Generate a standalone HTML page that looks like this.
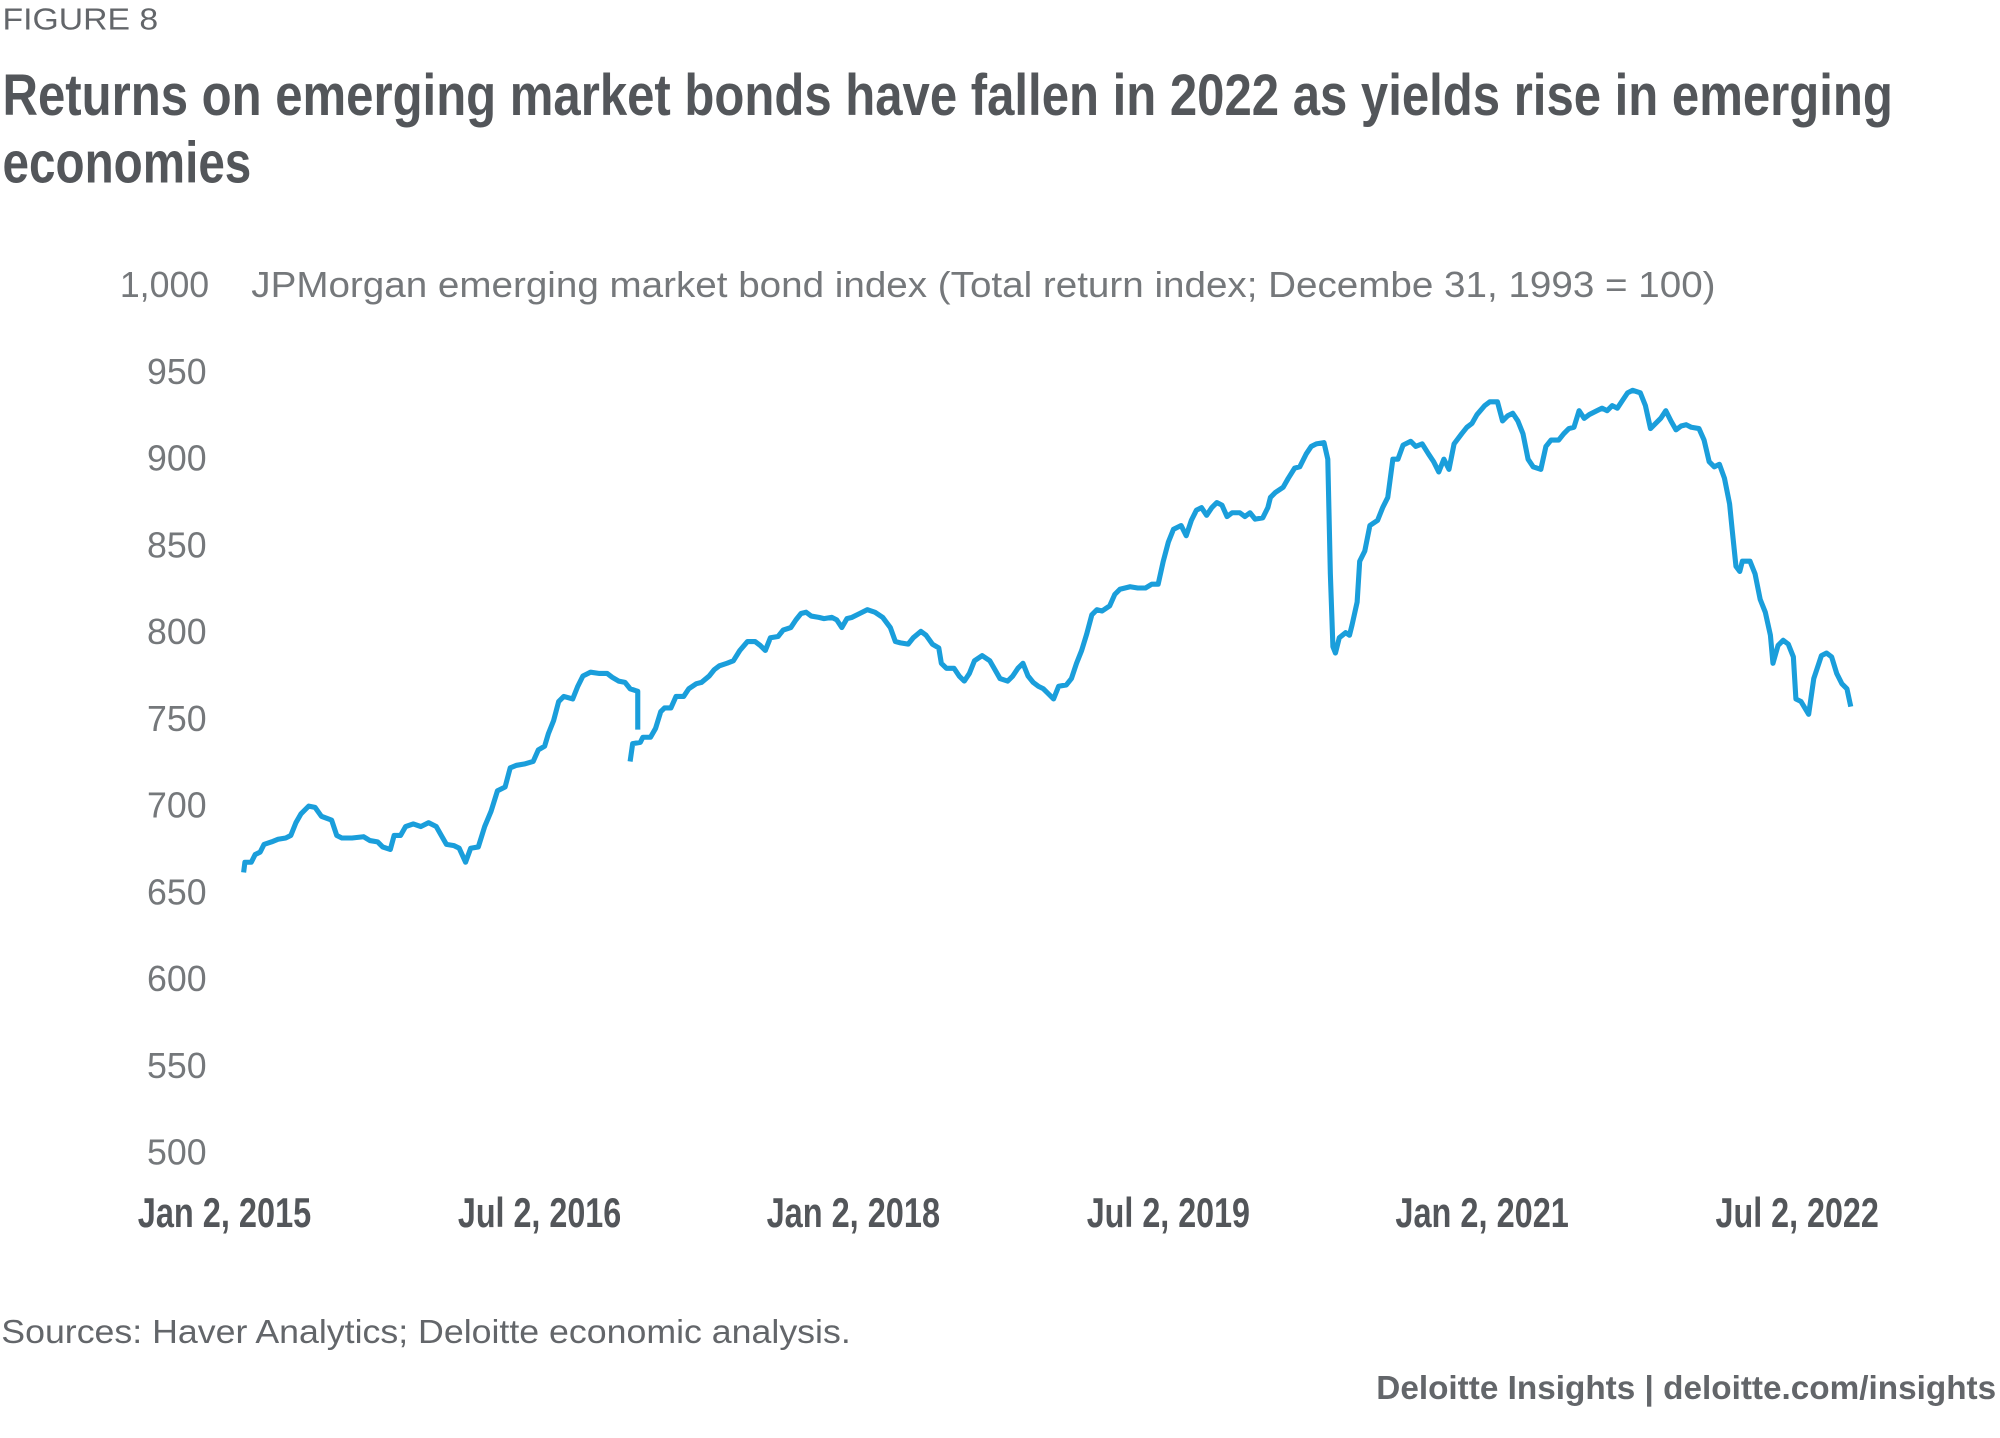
<!DOCTYPE html>
<html><head><meta charset="utf-8"><style>
html,body{margin:0;padding:0;background:#fff;}
svg{display:block}
</style></head><body>
<svg width="2000" height="1438" viewBox="0 0 1568 1127.4" xmlns="http://www.w3.org/2000/svg">
<rect width="1568" height="1128" fill="#fff"/>
<g font-family="'Liberation Sans', sans-serif" fill="#63666a">
<text x="2" y="23" font-size="24" textLength="122" lengthAdjust="spacingAndGlyphs">FIGURE 8</text>
<g font-family="'Liberation Sans Narrow','Liberation Sans',sans-serif" font-weight="bold" fill="#53565a" font-size="46">
<text x="2" y="90" textLength="1482" lengthAdjust="spacingAndGlyphs">Returns on emerging market bonds have fallen in 2022 as yields rise in emerging</text>
<text x="2" y="143" textLength="195" lengthAdjust="spacingAndGlyphs">economies</text>
</g>
<g font-size="28" fill="#75787b" text-anchor="end">
<text x="164" y="233">1,000</text>
<text x="162" y="301">950</text>
<text x="162" y="369">900</text>
<text x="162" y="437">850</text>
<text x="162" y="505">800</text>
<text x="162" y="573">750</text>
<text x="162" y="641">700</text>
<text x="162" y="709">650</text>
<text x="162" y="777">600</text>
<text x="162" y="845">550</text>
<text x="162" y="913">500</text>
</g>
<text x="197" y="233" font-size="28" fill="#75787b" textLength="1148" lengthAdjust="spacingAndGlyphs">JPMorgan emerging market bond index (Total return index; Decembe 31, 1993 = 100)</text>
<g font-family="'Liberation Sans Narrow','Liberation Sans',sans-serif" font-weight="bold" fill="#53565a" font-size="33" text-anchor="middle">
<text x="176" y="962" textLength="136" lengthAdjust="spacingAndGlyphs">Jan 2, 2015</text>
<text x="423" y="962" textLength="128" lengthAdjust="spacingAndGlyphs">Jul 2, 2016</text>
<text x="669" y="962" textLength="136" lengthAdjust="spacingAndGlyphs">Jan 2, 2018</text>
<text x="916" y="962" textLength="128" lengthAdjust="spacingAndGlyphs">Jul 2, 2019</text>
<text x="1162" y="962" textLength="136" lengthAdjust="spacingAndGlyphs">Jan 2, 2021</text>
<text x="1409" y="962" textLength="128" lengthAdjust="spacingAndGlyphs">Jul 2, 2022</text>
</g>
<text x="1" y="1053" font-size="26" fill="#63666a" textLength="666" lengthAdjust="spacingAndGlyphs">Sources: Haver Analytics; Deloitte economic analysis.</text>
<text x="1565" y="1097" font-size="26" font-weight="bold" fill="#63666a" text-anchor="end" textLength="486" lengthAdjust="spacingAndGlyphs">Deloitte Insights | deloitte.com/insights</text>
</g>
<g fill="none" stroke="#1a9edb" stroke-width="4" stroke-linejoin="round">
<polyline points="191,684 192,676 197,676 200,670 204,668 207,662 213,660 218,658 224,657 228,655 232,645 236,638 242,632 247,633 252,640 260,643 264,655 268,657 276,657 285,656 290,659 296,660 300,664 306,666 309,655 314,655 318,648 324,646 330,648 336,645 342,648 346,655 350,662 356,663 360,665 365,676 369,665 375,664 380,648 385,636 390,620 396,617 400,602 405,600 411,599 418,597 422,588 427,585 430,575 434,565 438,550 442,546 449,548 453,538 457,530 463,527 470,528 476,528 480,531 485,534 490,535 494,540 500,542 500,572"/>
<polyline points="494,597 496,583 502,582 504,578 510,578 514,571 518,558 521,555 526,555 530,546 536,546 540,540 546,536 550,535 556,530 560,525 564,522 570,520 575,518 580,510 586,503 592,503 596,506 600,510 604,500 610,499 614,494 620,492 624,486 628,481 632,480 636,483 642,484 646,485 652,484 656,486 660,492 664,485 668,484 674,481 680,478 686,480 692,484 698,492 702,503 706,504 712,505 716,500 722,495 726,498 731,505 736,508 738,520 742,524 748,524 752,530 756,534 760,528 764,518 770,514 776,518 780,525 784,532 790,534 794,530 798,524 802,520 806,530 810,535 814,538 818,540 822,544 826,548 830,538 836,537 840,532 844,520 848,510 852,497 856,482 860,478 864,479 870,475 874,466 878,462 886,460 892,461 898,461 903,458 908,458 912,440 916,425 920,415 926,412 930,420 934,408 938,400 942,398 946,404 950,398 954,394 958,396 962,405 966,402 972,402 976,405 980,402 984,407 990,406 994,398 996,390 1000,386 1006,382 1010,375 1015,367 1019,366 1024,356 1028,350 1032,348 1038,347 1041,360 1043,450 1045,507 1047,512 1050,500 1055,496 1058,498 1060,490 1064,472 1066,440 1070,432 1074,412 1080,408 1084,398 1088,390 1092,360 1096,360 1100,349 1106,346 1110,350 1115,348 1120,356 1124,362 1128,370 1132,360 1136,368 1140,348 1146,340 1150,335 1154,332 1158,325 1164,318 1168,315 1174,315 1178,330 1182,326 1186,324 1190,330 1194,340 1198,360 1202,366 1208,368 1212,350 1216,345 1222,345 1226,340 1230,336 1234,335 1238,322 1242,328 1246,325 1252,322 1256,320 1260,322 1264,318 1268,320 1272,314 1276,308 1280,306 1286,308 1290,318 1294,336 1298,332 1302,328 1306,322 1310,330 1314,337 1318,334 1322,333 1326,335 1332,336 1336,345 1340,362 1344,366 1348,364 1352,375 1356,395 1358,415 1361,444 1364,448 1366,440 1372,440 1376,450 1380,470 1384,480 1388,498 1390,520 1394,506 1398,502 1402,505 1406,515 1408,548 1412,550 1418,560 1422,532 1426,520 1428,514 1432,512 1436,515 1440,528 1444,536 1448,540 1451,554"/>
</g>
</svg>
</body></html>
